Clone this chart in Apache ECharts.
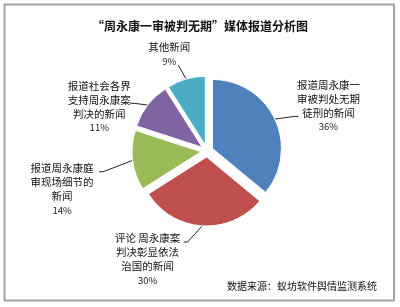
<!DOCTYPE html>
<html>
<head>
<meta charset="utf-8">
<script src="https://cdn.jsdelivr.net/npm/echarts@6/dist/echarts.min.js"></script>
<style>
  html, body { margin: 0; padding: 0; background: #fff; }
  #chart { width: 400px; height: 307px; }
</style>
</head>
<body>
<div id="chart"></div>
<script>
// 报道类别与占比 (%)
const names = [
  '报道周永康一\n审被判处无期\n徒刑的新闻',
  '评论 周永康案\n判决彰显依法\n治国的新闻',
  '报道周永康庭\n审现场细节的\n新闻',
  '报道社会各界\n支持周永康案\n判决的新闻',
  '其他新闻'
];
const values = [36, 30, 14, 11, 9];
const colors = ['#4f81bd', '#c0504d', '#9bbb59', '#8064a2', '#4bacc6'];

// label block anchors (center x, top y)
const labelPos = [[323, 82], [148, 227], [68, 162], [104, 84], [171, 48]];
// leader line hook: [x offset from label center, text line, horizontal stub]
const hooks = [[-30, 2, -4], [36, 0, 4], [37, 0, 4], [31, 1, 4], [9, 1, 0]];
const LH = 14;

const myChart = echarts.init(document.getElementById('chart'));

myChart.setOption({
  animation: false,
  title: {
    text: '“周永康一审被判无期”媒体报道分析图',
    left: 'center',
    top: 15,
    textStyle: {
      fontFamily: 'Noto Sans CJK SC',
      fontSize: 12,
      fontWeight: 'bold',
      color: '#111'
    }
  },
  graphic: [
    {
      type: 'rect',
      shape: { x: 4.5, y: 4.5, width: 389.5, height: 296 },
      style: { fill: 'none', stroke: '#a3a3a3', lineWidth: 2 },
      silent: true
    },
    {
      type: 'text',
      right: 23,
      top: 281,
      style: {
        text: '数据来源：蚁坊软件舆情监测系统',
        fontFamily: 'Noto Sans CJK SC',
        fontSize: 10,
        fill: '#111'
      }
    }
  ],
  series: [
    {
      type: 'pie',
      center: [207, 151],
      radius: 69,
      startAngle: 90,
      clockwise: true,
      avoidLabelOverlap: false,
      selectedMode: 'multiple',
      selectedOffset: 6,
      data: values.map((v, i) => ({
        name: names[i],
        value: v,
        selected: true,
        itemStyle: { color: colors[i], borderColor: '#fff', borderWidth: 1 }
      })),
      emphasis: { disabled: true },
      label: {
        show: true,
        position: 'outside',
        formatter: p => '{n|' + p.name + '}\n{p|' + p.percent + '%}',
        rich: {
          n: {
            fontFamily: 'Noto Sans CJK SC',
            fontSize: 10.5,
            lineHeight: LH,
            color: '#111',
            align: 'center'
          },
          p: {
            fontFamily: 'Noto Sans CJK SC',
            fontSize: 9.5,
            lineHeight: LH,
            color: '#222',
            align: 'center'
          }
        }
      },
      labelLine: {
        show: true,
        length: 6,
        length2: 6,
        lineStyle: { color: '#222', width: 1 }
      },
      labelLayout: params => {
        const i = params.dataIndex;
        const r = params.labelRect;
        const p = labelPos[i];
        const h = hooks[i];
        const start = params.labelLinePoints[0];
        const end = [p[0] + h[0], p[1] + LH * h[1] + LH / 2 + 2];
        return {
          dx: p[0] - (r.x + r.width / 2),
          dy: p[1] - r.y,
          labelLinePoints: [start, [end[0] + h[2], end[1]], end]
        };
      }
    }
  ]
});
</script>
</body>
</html>
